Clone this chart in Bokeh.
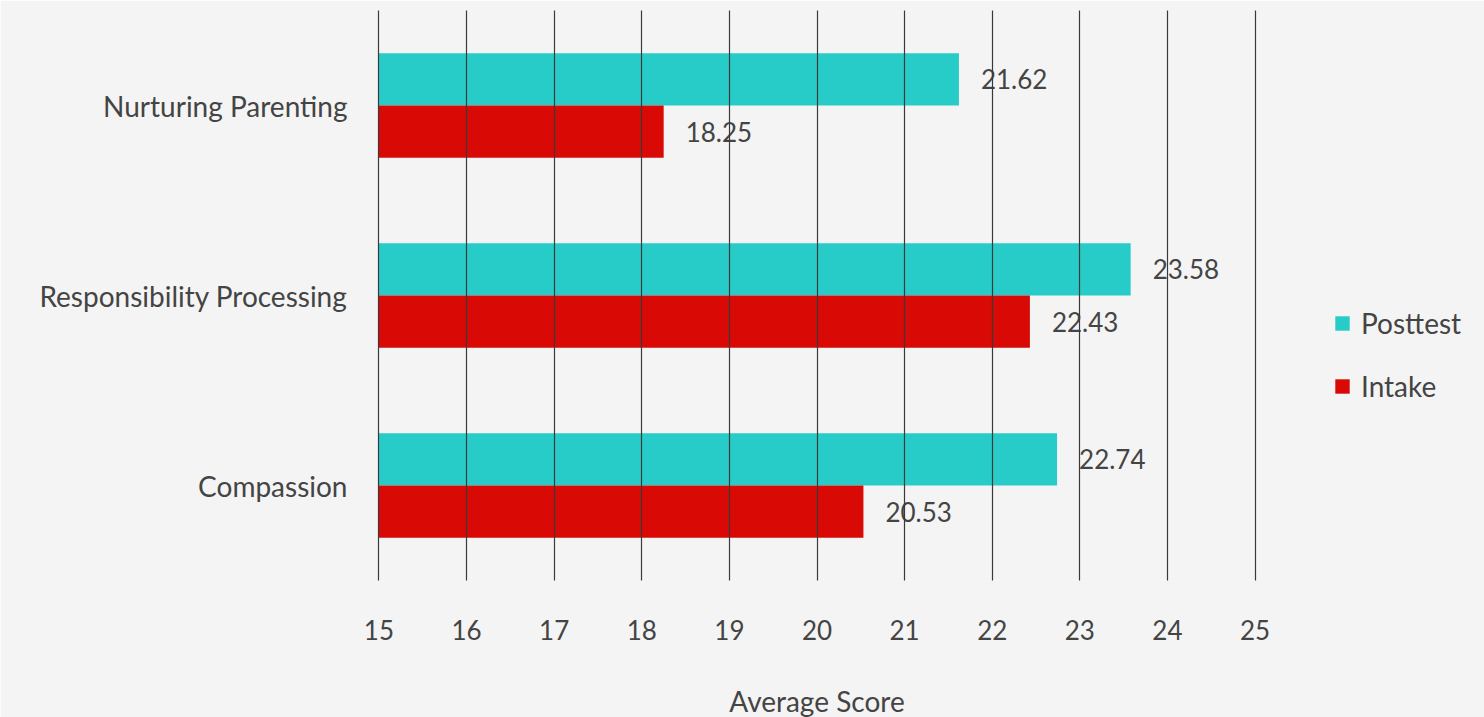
from bokeh.plotting import figure
from bokeh.models import ColumnDataSource, Range1d, FactorRange, Legend, LegendItem, FixedTicker
from bokeh.transform import dodge
from bokeh.core.properties import value
from bokeh.embed import file_html
from bokeh.resources import INLINE

categories = ["Nurturing Parenting", "Responsibility Processing", "Compassion"]
posttest = [21.62, 23.58, 22.74]
intake = [18.25, 22.43, 20.53]
x_ticks = [15, 16, 17, 18, 19, 20, 21, 22, 23, 24, 25]

FONT = "Lato"
TXT = "#444444"
BG = "#f4f4f4"
TEAL = "#27ccc8"
RED = "#d90a06"

src = ColumnDataSource(dict(
    cat=categories,
    post=posttest,
    intake=intake,
    post_lbl=[f"{v:.2f}" for v in posttest],
    intake_lbl=[f"{v:.2f}" for v in intake],
))

p = figure(
    y_range=FactorRange(*categories[::-1]),
    x_range=Range1d(14.995, 25.005),
    frame_width=877, frame_height=570,
    width=1476, height=709,
    output_backend="svg", toolbar_location=None,
    min_border_left=378, min_border_top=10, min_border_right=221, min_border_bottom=129,
    background_fill_color=BG, border_fill_color=BG,
)
p.outline_line_color = None

r_post = p.hbar(y=dodge("cat", 0.138, range=p.y_range), right="post", left=15, height=0.275,
                source=src, fill_color=TEAL, line_color=None)
r_int = p.hbar(y=dodge("cat", -0.138, range=p.y_range), right="intake", left=15, height=0.275,
               source=src, fill_color=RED, line_color=None)

p.text(x="post", y=dodge("cat", 0.138, range=p.y_range), text="post_lbl", source=src,
       x_offset=22, text_baseline="middle", text_align="left",
       text_font=value(FONT), text_font_size="26px", text_color=TXT)
p.text(x="intake", y=dodge("cat", -0.138, range=p.y_range), text="intake_lbl", source=src,
       x_offset=22, text_baseline="middle", text_align="left",
       text_font=value(FONT), text_font_size="26px", text_color=TXT)

p.ygrid.grid_line_color = None
p.xgrid.grid_line_color = "#3a3a3a"
p.xgrid.grid_line_width = 1.2
p.xgrid.level = "overlay"
p.xaxis.ticker = FixedTicker(ticks=x_ticks)

for ax in (p.xaxis[0], p.yaxis[0]):
    ax.axis_line_color = None
    ax.major_tick_line_color = None
    ax.minor_tick_line_color = None
    ax.major_label_text_font = FONT
    ax.major_label_text_color = TXT

p.xaxis.major_label_text_font_size = "26px"
p.yaxis.major_label_text_font_size = "28px"
p.xaxis.major_label_standoff = 33
p.yaxis.major_label_standoff = 25
p.xaxis.axis_label = "Average Score"
p.xaxis.axis_label_text_font = FONT
p.xaxis.axis_label_text_font_size = "28px"
p.xaxis.axis_label_text_font_style = "normal"
p.xaxis.axis_label_text_color = TXT
p.xaxis.axis_label_standoff = 41

legend = Legend(
    items=[LegendItem(label="Posttest", renderers=[r_post]),
           LegendItem(label="Intake", renderers=[r_int])],
    location=(78, 177),
    background_fill_alpha=0, border_line_color=None,
    glyph_width=18, glyph_height=18, label_height=30, spacing=29,
    label_text_font=FONT, label_text_font_size="28px", label_text_color=TXT,
    label_standoff=10, padding=10, margin=0,
)
p.add_layout(legend, "right")

open("out.html", "w").write(file_html(p, INLINE))
